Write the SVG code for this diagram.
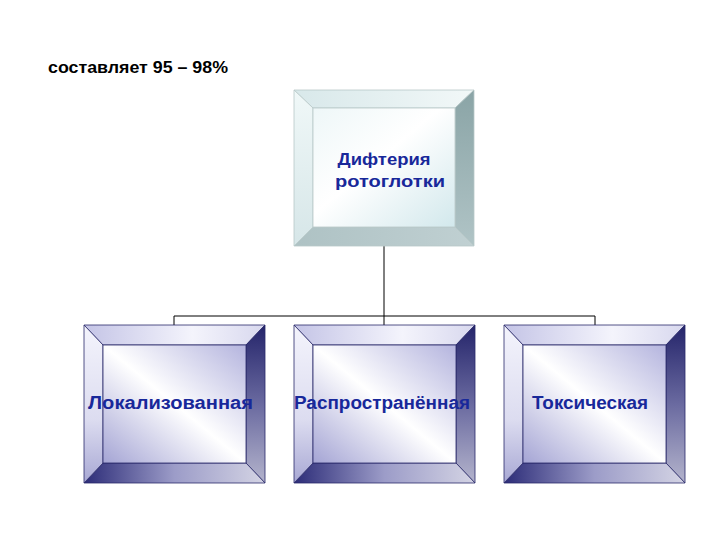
<svg xmlns="http://www.w3.org/2000/svg" width="720" height="540" viewBox="0 0 720 540">
<defs>
<style>
.lbl{font-family:"Liberation Sans",Arial,sans-serif;font-weight:bold;fill:#18289a;text-anchor:middle;}
.cap{font-family:"Liberation Sans",Arial,sans-serif;font-weight:bold;fill:#000;}
.conn{fill:none;stroke:#000;stroke-width:1;}
.bEdge{stroke:#2a2a6a;stroke-width:0.8;}
.tEdge{stroke:#b8c8c8;stroke-width:0.8;}
</style>
<linearGradient id="bTop" x1="0" y1="0" x2="1" y2="0"><stop offset="0" stop-color="#c4c4e6"/><stop offset="0.6" stop-color="#f4f4fc"/><stop offset="1" stop-color="#d8d8ee"/></linearGradient>
<linearGradient id="bLeft" x1="0" y1="0" x2="0" y2="1"><stop offset="0" stop-color="#f4f4fc"/><stop offset="0.6" stop-color="#dcdcf0"/><stop offset="1" stop-color="#a8a8d4"/></linearGradient>
<linearGradient id="bRight" x1="0" y1="0" x2="0" y2="1"><stop offset="0" stop-color="#24246a"/><stop offset="0.5" stop-color="#6a6aa0"/><stop offset="1" stop-color="#b4b4cc"/></linearGradient>
<linearGradient id="bBottom" x1="0" y1="0" x2="1" y2="0"><stop offset="0" stop-color="#2c2c78"/><stop offset="0.5" stop-color="#9c9cc8"/><stop offset="1" stop-color="#d4d4e4"/></linearGradient>
<linearGradient id="bFace" x1="0" y1="1" x2="1" y2="0"><stop offset="0" stop-color="#a4a4d4"/><stop offset="0.5" stop-color="#ffffff"/><stop offset="1" stop-color="#b4b4de"/></linearGradient>
<linearGradient id="tTop" x1="0" y1="0" x2="1" y2="0"><stop offset="0" stop-color="#d8e8ea"/><stop offset="1" stop-color="#f2f8f8"/></linearGradient>
<linearGradient id="tLeft" x1="0" y1="0" x2="0" y2="1"><stop offset="0" stop-color="#f0f8f8"/><stop offset="1" stop-color="#d6e6e8"/></linearGradient>
<linearGradient id="tRight" x1="0" y1="0" x2="0" y2="1"><stop offset="0" stop-color="#8aa4a6"/><stop offset="1" stop-color="#b0c4c6"/></linearGradient>
<linearGradient id="tBottom" x1="0" y1="0" x2="1" y2="0"><stop offset="0" stop-color="#aec2c4"/><stop offset="1" stop-color="#c0d0d2"/></linearGradient>
<linearGradient id="tFace" x1="0" y1="0" x2="1" y2="1"><stop offset="0" stop-color="#eef7f8"/><stop offset="0.45" stop-color="#ffffff"/><stop offset="1" stop-color="#d2e8ec"/></linearGradient>
</defs>
<rect width="720" height="540" fill="#ffffff"/>
<text class="cap" x="48" y="73" font-size="16.5" textLength="180" lengthAdjust="spacingAndGlyphs">составляет 95 – 98%</text>
<g id="connectors">
<line class="conn" x1="384" y1="246" x2="384" y2="325"/>
<polyline class="conn" points="174,325 174,316 595,316 595,325"/>
</g>
<g id="node-top">
<polygon class="tEdge" fill="url(#tTop)" points="294,90 474,90 455,108 313,108"/>
<polygon class="tEdge" fill="url(#tRight)" points="474,90 474,246 455,227 455,108"/>
<polygon class="tEdge" fill="url(#tBottom)" points="294,246 474,246 455,227 313,227"/>
<polygon class="tEdge" fill="url(#tLeft)" points="294,90 313,108 313,227 294,246"/>
<rect class="tEdge" fill="url(#tFace)" x="313" y="108" width="142" height="119"/>
<text class="lbl" x="384" y="165" font-size="16.5" textLength="93" lengthAdjust="spacingAndGlyphs">Дифтерия</text>
<text class="lbl" x="390" y="187" font-size="16.5" textLength="110" lengthAdjust="spacingAndGlyphs">ротоглотки</text>
</g>
<g id="node-local">
<polygon class="bEdge" fill="url(#bTop)" points="84,325 265,325 246,345 103,345"/>
<polygon class="bEdge" fill="url(#bRight)" points="265,325 265,483 246,463 246,345"/>
<polygon class="bEdge" fill="url(#bBottom)" points="84,483 265,483 246,463 103,463"/>
<polygon class="bEdge" fill="url(#bLeft)" points="84,325 103,345 103,463 84,483"/>
<rect class="bEdge" fill="url(#bFace)" x="103" y="345" width="143" height="118"/>
<text class="lbl" x="170.5" y="409" font-size="17.5" textLength="165" lengthAdjust="spacingAndGlyphs">Локализованная</text>
</g>
<g id="node-spread">
<polygon class="bEdge" fill="url(#bTop)" points="294,325 475,325 456,345 313,345"/>
<polygon class="bEdge" fill="url(#bRight)" points="475,325 475,483 456,463 456,345"/>
<polygon class="bEdge" fill="url(#bBottom)" points="294,483 475,483 456,463 313,463"/>
<polygon class="bEdge" fill="url(#bLeft)" points="294,325 313,345 313,463 294,483"/>
<rect class="bEdge" fill="url(#bFace)" x="313" y="345" width="143" height="118"/>
<text class="lbl" x="382" y="409" font-size="17.5" textLength="176" lengthAdjust="spacingAndGlyphs">Распространённая</text>
</g>
<g id="node-toxic">
<polygon class="bEdge" fill="url(#bTop)" points="504,325 685,325 666,345 523,345"/>
<polygon class="bEdge" fill="url(#bRight)" points="685,325 685,483 666,463 666,345"/>
<polygon class="bEdge" fill="url(#bBottom)" points="504,483 685,483 666,463 523,463"/>
<polygon class="bEdge" fill="url(#bLeft)" points="504,325 523,345 523,463 504,483"/>
<rect class="bEdge" fill="url(#bFace)" x="523" y="345" width="143" height="118"/>
<text class="lbl" x="590" y="409" font-size="17.5" textLength="116" lengthAdjust="spacingAndGlyphs">Токсическая</text>
</g>
</svg>
